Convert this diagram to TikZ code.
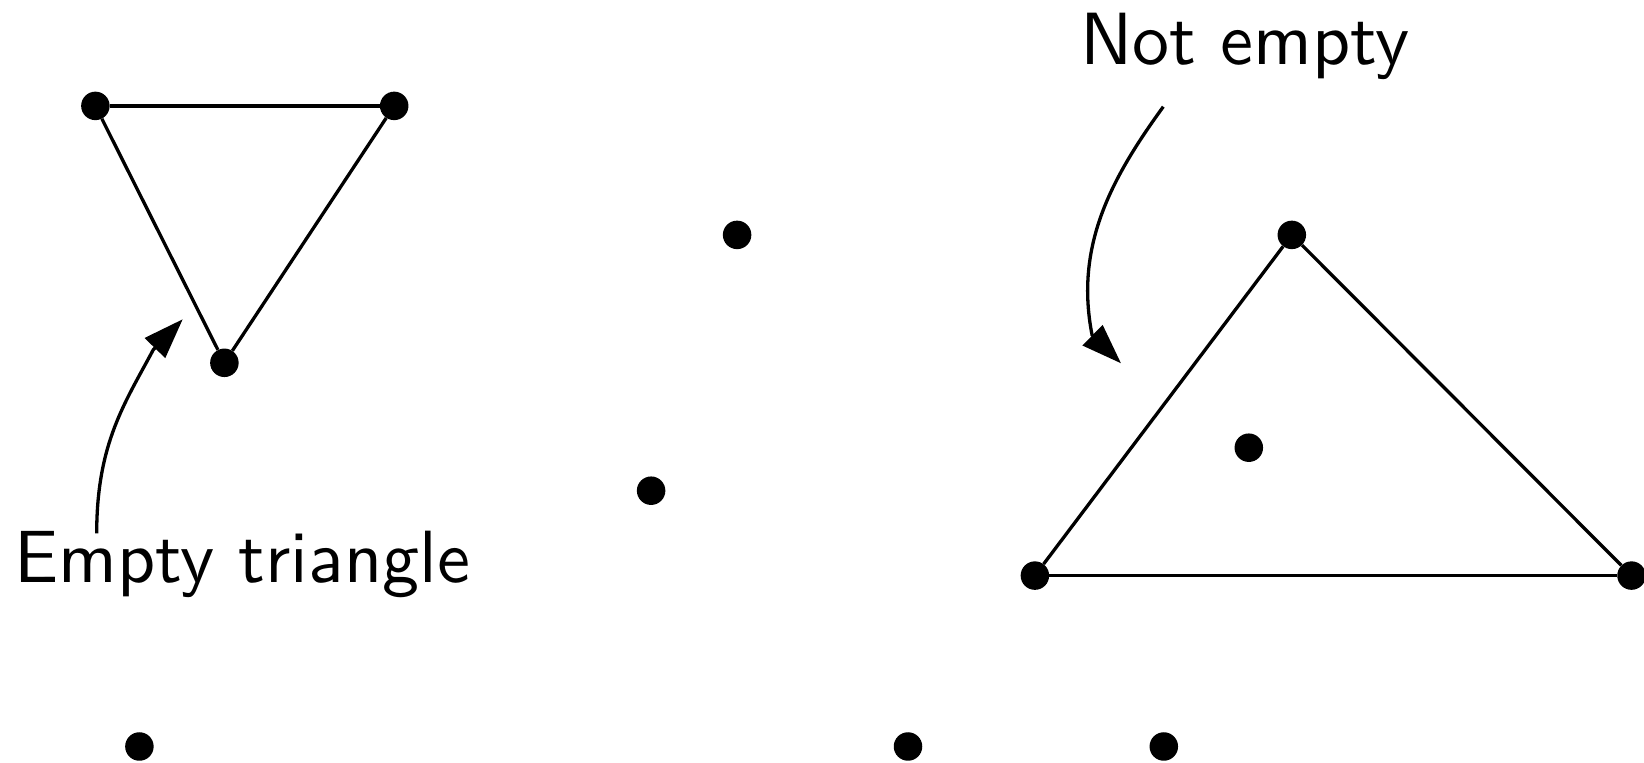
\documentclass[tikz,border=0pt]{standalone}
\usepackage{fontspec}
\newfontfamily\lmsten{lmsans10-regular.otf}
\usetikzlibrary{arrows.meta}
\begin{document}
\begin{tikzpicture}[x=1pt,y=1pt,
  pt/.style={circle,fill=black,inner sep=0pt,minimum size=28.5pt},
  edge/.style={line width=3.3pt},
  callout/.style={line width=3.3pt,-{Triangle[length=40pt,width=28pt]}},
  lbl/.style={font=\lmsten\fontsize{74}{80}\selectfont,inner sep=0pt,anchor=base west}]
\useasboundingbox (0,0) rectangle (1644,763);
% points
\node[pt] (A) at (95.4,657.1) {};
\node[pt] (B) at (394.2,657.1) {};
\node[pt] (C) at (224.4,400.2) {};
\node[pt] (D) at (737.1,528.1) {};
\node[pt] (E) at (651.1,272.3) {};
\node[pt] (F) at (1291.8,528.1) {};
\node[pt] (G) at (1248.8,315.3) {};
\node[pt] (H) at (1034.9,187.4) {};
\node[pt] (I) at (1631.5,187.4) {};
\node[pt] (J) at (139.4,16.5) {};
\node[pt] (K) at (908,16.5) {};
\node[pt] (L) at (1163.8,16.5) {};
% triangles
\draw[edge] (A) -- (B);
\draw[edge] (B) -- (C);
\draw[edge] (C) -- (A);
\draw[edge] (F) -- (I);
\draw[edge] (I) -- (H);
\draw[edge] (H) -- (F);
% labels
\node[lbl] (empty) at (14,180) {Empty triangle};
\node[lbl] (notempty) at (1080,698) {Not empty};
% arrows
\coordinate (s1) at (96.7,229.7);
\coordinate (b1) at (153.3,413.3);
\coordinate (t1) at (182.7,443.7);
\coordinate (s2) at (1163.3,656.3);
\coordinate (b2) at (1092,428.3);
\coordinate (t2) at (1121,399.7);
\draw[callout] (s1) .. controls (96.7,319.7) and (125.1,360.3) .. (b1) -- (t1);
\draw[callout] (s2) .. controls (1110.4,583.5) and (1074.8,516.5) .. (b2) -- (t2);
\end{tikzpicture}
\end{document}
